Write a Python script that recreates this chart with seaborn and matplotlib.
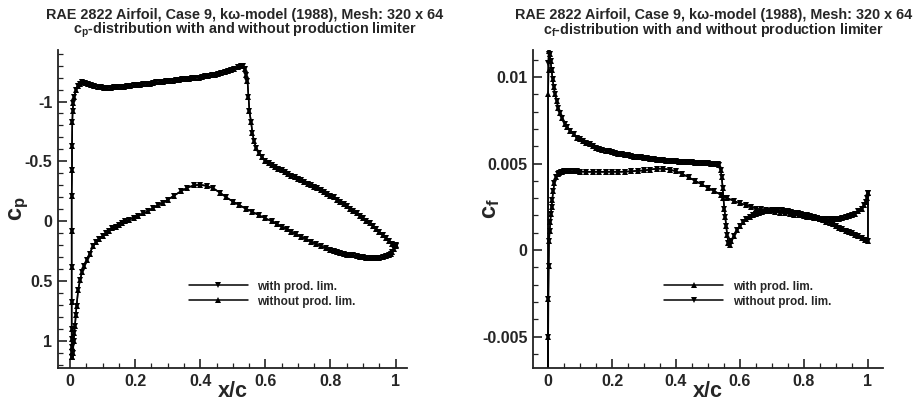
import numpy as np
import pandas as pd
import matplotlib
matplotlib.use('Agg')
import matplotlib.pyplot as plt
import seaborn as sns
from matplotlib.ticker import MultipleLocator

# ---------------- data ----------------
# cp, lower surface, trailing edge -> leading edge
x_cp_lower = [1.0, 0.995, 0.99, 0.985, 0.98, 0.97, 0.96, 0.95, 0.94, 0.93, 0.92, 0.91, 0.90, 0.89,
              0.88, 0.87, 0.86, 0.85, 0.84, 0.83, 0.82, 0.81, 0.80, 0.785, 0.77, 0.755, 0.74, 0.725,
              0.71, 0.695, 0.68, 0.665, 0.65, 0.635, 0.62, 0.60, 0.58, 0.56, 0.54, 0.52, 0.50, 0.48,
              0.46, 0.44, 0.42, 0.40, 0.38, 0.36, 0.34, 0.32, 0.30, 0.285, 0.27, 0.255, 0.24, 0.225,
              0.21, 0.195, 0.18, 0.17, 0.16, 0.15, 0.14, 0.13, 0.12, 0.11, 0.10, 0.09, 0.08, 0.07,
              0.06, 0.052, 0.044, 0.037, 0.031, 0.025, 0.02, 0.018, 0.015, 0.013, 0.011, 0.009, 0.007]
cp_lower = [0.20, 0.23, 0.255, 0.27, 0.28, 0.29, 0.30, 0.305, 0.31, 0.31, 0.31, 0.305, 0.30, 0.295,
            0.29, 0.285, 0.28, 0.28, 0.275, 0.265, 0.26, 0.25, 0.24, 0.225, 0.205, 0.19, 0.17, 0.15,
            0.13, 0.11, 0.09, 0.065, 0.045, 0.025, 0.0, -0.025, -0.05, -0.08, -0.105, -0.135, -0.165, -0.20,
            -0.24, -0.275, -0.295, -0.305, -0.30, -0.28, -0.25, -0.215, -0.18, -0.155, -0.135, -0.11, -0.085, -0.065,
            -0.045, -0.03, -0.01, 0.0, 0.015, 0.03, 0.045, 0.06, 0.08, 0.10, 0.125, 0.15, 0.175, 0.21,
            0.27, 0.32, 0.37, 0.42, 0.49, 0.57, 0.71, 0.78, 0.875, 0.93, 1.0, 1.10, 1.13]

# cp, upper surface, leading edge -> trailing edge
x_cp_upper = [0.006, 0.005, 0.005, 0.005, 0.005, 0.005, 0.005, 0.005, 0.005, 0.006, 0.006, 0.007,
              0.008, 0.010, 0.013, 0.018, 0.024, 0.030, 0.037, 0.045, 0.055, 0.065, 0.075, 0.085,
              0.095, 0.105, 0.115, 0.125, 0.135, 0.145, 0.155, 0.165, 0.175, 0.185, 0.195, 0.205,
              0.215, 0.225, 0.235, 0.245, 0.255, 0.265, 0.275, 0.285, 0.295, 0.305, 0.315, 0.325,
              0.335, 0.345, 0.355, 0.365, 0.375, 0.385, 0.395, 0.405, 0.415, 0.425, 0.435, 0.445,
              0.455, 0.465, 0.475, 0.485, 0.495, 0.505, 0.515, 0.525, 0.53, 0.536, 0.541, 0.545,
              0.548, 0.551, 0.556, 0.56, 0.565, 0.572, 0.58, 0.59, 0.60, 0.61, 0.62, 0.63, 0.64,
              0.65, 0.66, 0.67, 0.68, 0.69, 0.70, 0.71, 0.72, 0.73, 0.74, 0.75, 0.76, 0.77, 0.78,
              0.79, 0.80, 0.81, 0.82, 0.83, 0.84, 0.85, 0.86, 0.87, 0.88, 0.89, 0.90, 0.91, 0.92,
              0.93, 0.94, 0.95, 0.96, 0.97, 0.98, 0.99, 1.0]
cp_upper = [1.13, 1.09, 1.05, 0.98, 0.90, 0.67, 0.38, 0.08, -0.21, -0.43, -0.63, -0.83,
            -0.92, -0.99, -1.04, -1.10, -1.13, -1.15, -1.16, -1.155, -1.15, -1.14, -1.13, -1.125,
            -1.12, -1.115, -1.115, -1.115, -1.12, -1.12, -1.125, -1.125, -1.13, -1.13, -1.135, -1.14,
            -1.14, -1.145, -1.15, -1.15, -1.155, -1.16, -1.16, -1.165, -1.17, -1.17, -1.175, -1.18,
            -1.18, -1.185, -1.19, -1.19, -1.195, -1.20, -1.20, -1.205, -1.21, -1.215, -1.22, -1.225,
            -1.23, -1.24, -1.245, -1.255, -1.265, -1.275, -1.285, -1.295, -1.295, -1.27, -1.22, -1.17,
            -1.04, -0.92, -0.83, -0.74, -0.67, -0.61, -0.57, -0.535, -0.505, -0.485, -0.47, -0.455, -0.44,
            -0.425, -0.41, -0.395, -0.38, -0.37, -0.355, -0.345, -0.33, -0.315, -0.305, -0.29, -0.275, -0.26, -0.245,
            -0.23, -0.215, -0.20, -0.18, -0.165, -0.145, -0.125, -0.105, -0.085, -0.065, -0.045, -0.025, -0.005, 0.015,
            0.04, 0.065, 0.09, 0.115, 0.14, 0.165, 0.19, 0.205]

# cf, lower surface, trailing edge -> leading edge
x_cf_lower = [1.0, 0.997, 0.993, 0.988, 0.98, 0.97, 0.96, 0.95, 0.94, 0.93, 0.92, 0.91, 0.90, 0.89,
              0.88, 0.87, 0.86, 0.85, 0.84, 0.83, 0.82, 0.81, 0.80, 0.785, 0.77, 0.755, 0.74, 0.725,
              0.71, 0.695, 0.68, 0.665, 0.65, 0.635, 0.62, 0.60, 0.58, 0.56, 0.54, 0.52, 0.50, 0.48,
              0.46, 0.44, 0.42, 0.40, 0.38, 0.36, 0.34, 0.32, 0.30, 0.28, 0.26, 0.24, 0.22, 0.20,
              0.18, 0.16, 0.14, 0.12, 0.10, 0.09, 0.08, 0.07, 0.06, 0.05, 0.045, 0.04, 0.035, 0.03,
              0.025, 0.02, 0.016, 0.013, 0.011, 0.009, 0.007, 0.005, 0.003, 0.002, 0.001, 0.0005, 0.0]
cf_lower = [0.0033, 0.0030, 0.0028, 0.0026, 0.0024, 0.00225, 0.0021, 0.0020, 0.00195, 0.0019, 0.00185, 0.0018, 0.0018, 0.00178,
            0.00178, 0.0018, 0.0018, 0.00182, 0.00185, 0.00188, 0.0019, 0.00193, 0.00196, 0.0020, 0.00205, 0.0021, 0.00213, 0.00217,
            0.0022, 0.00225, 0.0023, 0.00235, 0.0024, 0.0025, 0.0026, 0.0027, 0.00285, 0.0030, 0.0032, 0.0034, 0.0036, 0.0038,
            0.0040, 0.0042, 0.0044, 0.00455, 0.00465, 0.0047, 0.0047, 0.00465, 0.0046, 0.00458, 0.00455, 0.00453, 0.00452, 0.00452,
            0.00452, 0.00452, 0.00452, 0.00452, 0.00453, 0.00454, 0.00455, 0.00455, 0.00455, 0.00454, 0.00452, 0.0045, 0.00447, 0.0044,
            0.0042, 0.0039, 0.0034, 0.0029, 0.0025, 0.0021, 0.0016, 0.0011, 0.0005, -0.0009, -0.0028, -0.0050, -0.0085]

# cf at the stagnation point (the two runs differ there)
x_cf_le = [0.0, 0.002]
cf_le_with = [0.0090, 0.0104]
cf_le_without = [0.0108, 0.0113]

# cf, upper surface, leading edge -> trailing edge (last point closes the loop)
x_cf_upper = [0.004, 0.006, 0.008, 0.011, 0.014, 0.018, 0.022, 0.027, 0.032, 0.038, 0.045, 0.052,
              0.06, 0.07, 0.08, 0.09, 0.10, 0.11, 0.12, 0.13, 0.14, 0.15, 0.16, 0.17, 0.18, 0.19,
              0.20, 0.21, 0.22, 0.23, 0.24, 0.25, 0.26, 0.27, 0.28, 0.29, 0.30, 0.31, 0.32, 0.33,
              0.34, 0.35, 0.36, 0.37, 0.38, 0.39, 0.40, 0.41, 0.42, 0.43, 0.44, 0.45, 0.46, 0.47,
              0.48, 0.49, 0.50, 0.51, 0.52, 0.53, 0.535, 0.54, 0.543, 0.546, 0.548, 0.551, 0.554,
              0.557, 0.56, 0.564, 0.568, 0.573, 0.58, 0.59, 0.60, 0.61, 0.62, 0.63, 0.64, 0.65,
              0.66, 0.67, 0.68, 0.69, 0.70, 0.71, 0.72, 0.73, 0.74, 0.75, 0.76, 0.77, 0.78, 0.79,
              0.80, 0.81, 0.82, 0.83, 0.84, 0.85, 0.86, 0.87, 0.88, 0.89, 0.90, 0.91, 0.92, 0.93,
              0.94, 0.95, 0.96, 0.97, 0.98, 0.99, 1.0, 1.0]
cf_upper = [0.0115, 0.0113, 0.0109, 0.0104, 0.0099, 0.0094, 0.0090, 0.0086, 0.0082, 0.0079, 0.0076, 0.0073,
            0.0071, 0.0069, 0.0067, 0.0065, 0.0064, 0.0063, 0.0062, 0.0061, 0.0060, 0.0059, 0.00585, 0.0058, 0.00575, 0.0057,
            0.00565, 0.0056, 0.00557, 0.00554, 0.0055, 0.00547, 0.00544, 0.0054, 0.00537, 0.00535, 0.00532, 0.0053, 0.00528, 0.00525,
            0.00523, 0.0052, 0.00518, 0.00516, 0.00515, 0.00513, 0.00512, 0.0051, 0.00509, 0.00508, 0.00507, 0.00506, 0.00505, 0.00504,
            0.00503, 0.00502, 0.00501, 0.0050, 0.00498, 0.00495, 0.0049, 0.0046, 0.0042, 0.0036, 0.0030, 0.0024, 0.0019,
            0.0014, 0.00085, 0.0004, 0.0003, 0.0005, 0.0008, 0.00115, 0.0014, 0.0016, 0.0018, 0.00192, 0.0020, 0.0021,
            0.00215, 0.0022, 0.00225, 0.00228, 0.0023, 0.0023, 0.0023, 0.0023, 0.00228, 0.00225, 0.0022, 0.00217, 0.00213, 0.0021,
            0.00205, 0.0020, 0.00195, 0.0019, 0.00185, 0.0018, 0.00172, 0.00165, 0.00157, 0.0015, 0.0014, 0.0013, 0.00122, 0.00113,
            0.00105, 0.00097, 0.0009, 0.0008, 0.0007, 0.0006, 0.0005, 0.0033]

series_labels = ['with prod. lim.', 'without prod. lim.']
x_ticks = [0, 0.2, 0.4, 0.6, 0.8, 1]
x_ticklabels = ['0', '0.2', '0.4', '0.6', '0.8', '1']
cp_ticks = [-1, -0.5, 0, 0.5, 1]
cp_ticklabels = ['-1', '-0.5', '0', '0.5', '1']
cf_ticks = [-0.005, 0, 0.005, 0.01]
cf_ticklabels = ['-0.005', '0', '0.005', '0.01']

# ---------------- frames ----------------
df_cp = pd.DataFrame({'x': x_cp_lower + x_cp_upper, 'cp': cp_lower + cp_upper})
df_cf_with = pd.DataFrame({'x': x_cf_lower + x_cf_le + x_cf_upper,
                           'cf': cf_lower + cf_le_with + cf_upper})
df_cf_without = pd.DataFrame({'x': x_cf_lower + x_cf_le + x_cf_upper,
                              'cf': cf_lower + cf_le_without + cf_upper})

sns.set_style('ticks')
plt.rcParams['font.family'] = ['Liberation Sans', 'DejaVu Sans']
plt.rcParams['font.weight'] = 'bold'
plt.rcParams['axes.unicode_minus'] = False
plt.rcParams['mathtext.fontset'] = 'custom'
plt.rcParams['mathtext.rm'] = 'Liberation Sans:bold'
plt.rcParams['mathtext.it'] = 'Liberation Sans:bold'
plt.rcParams['mathtext.bf'] = 'Liberation Sans:bold'

fig = plt.figure(figsize=(9.18, 4.03), dpi=100)
ax1 = fig.add_axes([58 / 918, 1 - 368 / 403, 349 / 918, 318 / 403])
ax2 = fig.add_axes([533 / 918, 1 - 368 / 403, 350 / 918, 318 / 403])

line_kw = dict(sort=False, estimator=None, color='black', linewidth=1.1,
               markersize=5, markeredgewidth=0)

sns.lineplot(data=df_cp, x='x', y='cp', marker='v', label=series_labels[0], ax=ax1, **line_kw)
sns.lineplot(data=df_cp, x='x', y='cp', marker='^', label=series_labels[1], ax=ax1, **line_kw)

sns.lineplot(data=df_cf_with, x='x', y='cf', marker='^', label=series_labels[0], ax=ax2, **line_kw)
sns.lineplot(data=df_cf_without, x='x', y='cf', marker='v', label=series_labels[1], ax=ax2, **line_kw)

ax1.set_xlim(-0.037, 1.035)
ax1.set_ylim(1.225, -1.43)
ax2.set_xlim(-0.047, 1.047)
ax2.set_ylim(-0.0068, 0.01155)

for ax, yt, ytl, yminor in [(ax1, cp_ticks, cp_ticklabels, 0.1),
                            (ax2, cf_ticks, cf_ticklabels, 0.001)]:
    ax.set_xticks(x_ticks)
    ax.set_xticklabels(x_ticklabels)
    ax.set_yticks(yt)
    ax.set_yticklabels(ytl)
    ax.xaxis.set_minor_locator(MultipleLocator(0.05))
    ax.yaxis.set_minor_locator(MultipleLocator(yminor))
    ax.tick_params(which='major', direction='in', length=6.5, width=1.2,
                   labelsize=11.5, pad=4, color='#222222')
    ax.tick_params(which='minor', direction='in', length=3.5, width=0.9, color='#222222')
    for lab in ax.get_xticklabels() + ax.get_yticklabels():
        lab.set_fontweight('bold')
    sns.despine(ax=ax)
    for s in ['left', 'bottom']:
        ax.spines[s].set_linewidth(1.3)
        ax.spines[s].set_color('#222222')
    ax.set_xlabel('x/c', fontsize=15.5, fontweight='bold')
    ax.xaxis.set_label_coords(0.5, -0.04)
    leg = ax.legend(loc='upper left', bbox_to_anchor=(0.375, 0.275), frameon=False,
                    fontsize=8.5, handlelength=5.0, handletextpad=0.8, borderpad=0,
                    borderaxespad=0, labelspacing=0.25)
    for t in leg.get_texts():
        t.set_fontweight('bold')

ax1.set_ylabel(r'$\mathbf{c_p}$', fontsize=17)
ax1.yaxis.set_label_coords(-0.078, 0.5)
ax2.set_ylabel(r'$\mathbf{c_f}$', fontsize=17)
ax2.yaxis.set_label_coords(-0.088, 0.5)

title1 = 'RAE 2822 Airfoil, Case 9, k\u03c9-model (1988), Mesh: 320 x 64'
title_size = 10.4
fig.text(245 / 918, 1 - 15 / 403, title1, ha='center', va='center', fontsize=title_size, fontweight='bold')
fig.text(245 / 918, 1 - 30 / 403, r'$\mathbf{c_p}$-distribution with and without production limiter',
         ha='center', va='center', fontsize=title_size, fontweight='bold')
fig.text(714 / 918, 1 - 15 / 403, title1, ha='center', va='center', fontsize=title_size, fontweight='bold')
fig.text(714 / 918, 1 - 30 / 403, r'$\mathbf{c_f}$-distribution with and without production limiter',
         ha='center', va='center', fontsize=title_size, fontweight='bold')

fig.savefig('out.png', dpi=100)
